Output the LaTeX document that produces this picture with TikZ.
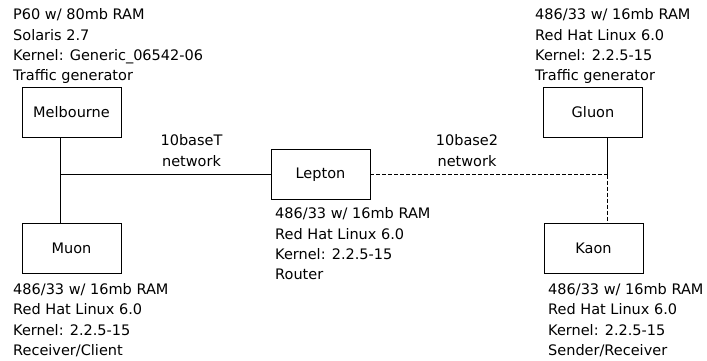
\documentclass[tikz,border=0pt]{standalone}
\usepackage{fontspec}
\setmainfont{DejaVu Sans}
\usetikzlibrary{positioning,calc}

\tikzset{
  host/.style={draw, line width=0.9pt, minimum width=99pt, minimum height=50pt, inner sep=0pt},
  info/.style={anchor=north west, align=left, inner sep=0pt},
  netlabel/.style={anchor=north, align=center, inner sep=0pt},
  cable/.style={line width=0.9pt},
  coax/.style={line width=0.9pt, dash pattern=on 4pt off 2pt}
}

\begin{document}
\begin{tikzpicture}[x=1pt, y=-1pt, font=\fontsize{14.5}{20.4}\selectfont]
                \useasboundingbox (0,0) rectangle (707,360);

                % Hosts
                \node[host] (melbourne) at (71.5,112) {Melbourne};
                \node[host] (muon) at (71.5,248) {Muon};
                \node[host] (lepton) at (320.5,174.5) {Lepton};
                \node[host] (gluon) at (593,112) {Gluon};
                \node[host] (kaon) at (593.5,248) {Kaon};

                % Host details
                \node[info] (melbourneinfo) at (13,8.5) {P60 w/ 80mb RAM\\Solaris 2.7\\Kernel: Generic\_06542-06\\Traffic generator};
                \node[info] (gluoninfo) at (535,8.5) {486/33 w/ 16mb RAM\\Red Hat Linux 6.0\\Kernel: 2.2.5-15\\Traffic generator};
                \node[info] (leptoninfo) at (275,207.5) {486/33 w/ 16mb RAM\\Red Hat Linux 6.0\\Kernel: 2.2.5-15\\Router};
                \node[info] (muoninfo) at (13,283) {486/33 w/ 16mb RAM\\Red Hat Linux 6.0\\Kernel: 2.2.5-15\\Receiver/Client};
                \node[info] (kaoninfo) at (548,283) {486/33 w/ 16mb RAM\\Red Hat Linux 6.0\\Kernel: 2.2.5-15\\Sender/Receiver};

                % Networks
                \node[netlabel] (tenbaset) at (191.5,134.5) {10baseT\\network};
                \node[netlabel] (tenbasetwo) at (467,134.5) {10base2\\network};

                \coordinate (west) at (60,174.5);
                \coordinate (east) at (607,174.5);

                % Links
                \draw[cable] (melbourne.south -| west) -- (muon.north -| west);
                \draw[cable] (west) -- (lepton.west);
                \draw[coax] (lepton.east) -- (east);
                \draw[cable] (gluon.south -| east) -- (east);
                \draw[coax] (east) -- (kaon.north -| east);
            \end{tikzpicture}
\end{document}
